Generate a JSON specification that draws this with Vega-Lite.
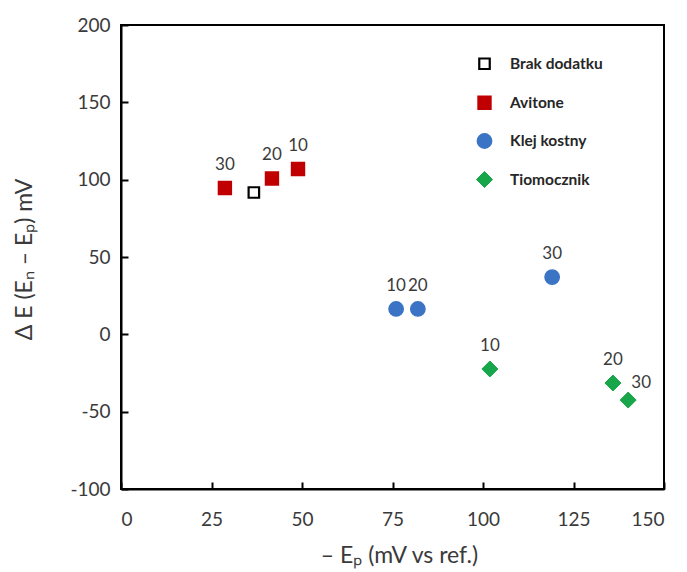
{
  "$schema": "https://vega.github.io/schema/vega-lite/v6.json",
  "width": 543,
  "height": 464,
  "autosize": {"type": "none"},
  "padding": {"left": 121, "top": 25, "right": 23, "bottom": 83},
  "background": "white",
  "config": {
    "font": "Lato",
    "view": {"stroke": "black", "strokeWidth": 2},
    "axis": {"grid": false, "domainColor": "black", "domainWidth": 2, "ticks": true, "tickColor": "black", "tickWidth": 2, "labelFont": "Lato", "labelFontSize": 19, "labelColor": "#3a3a3a", "titleFont": "Lato", "titleFontSize": 23, "titleFontWeight": "normal", "titleColor": "#3a3a3a"},
    "legend": {"title": null, "orient": "none", "legendX": 355, "legendY": 31, "padding": 0, "rowPadding": 18, "labelOffset": 17, "labelFont": "Lato", "labelFontSize": 15.5, "labelFontWeight": "bold", "labelColor": "#262626"}
  },
  "data": {
    "values": [
      {"series": "Brak dodatku", "x": 36.7, "y": 91.7, "dose": ""},
      {"series": "Avitone", "x": 28.7, "y": 94.6, "dose": "30"},
      {"series": "Avitone", "x": 41.7, "y": 100.8, "dose": "20"},
      {"series": "Avitone", "x": 48.9, "y": 106.9, "dose": "10"},
      {"series": "Klej kostny", "x": 76.0, "y": 16.4, "dose": "10"},
      {"series": "Klej kostny", "x": 82.0, "y": 16.4, "dose": "20"},
      {"series": "Klej kostny", "x": 119.1, "y": 37.0, "dose": "30"},
      {"series": "Tiomocznik", "x": 101.9, "y": -22.4, "dose": "10"},
      {"series": "Tiomocznik", "x": 135.9, "y": -31.5, "dose": "20"},
      {"series": "Tiomocznik", "x": 140.1, "y": -42.5, "dose": "30"}
    ]
  },
  "encoding": {
    "x": {"field": "x", "type": "quantitative", "scale": {"domain": [0, 150], "nice": false, "zero": false},
      "axis": {"values": [0, 25, 50, 75, 100, 125, 150], "tickSize": -7, "labelPadding": 28, "title": "– Eₚ (mV vs ref.)", "titleX": 278, "titleY": 66, "titleBaseline": "middle", "labelExpr": "replace(datum.label, '−', '-')"}},
    "y": {"field": "y", "type": "quantitative", "scale": {"domain": [-100, 200], "nice": false, "zero": false},
      "axis": {"values": [-100, -50, 0, 50, 100, 150, 200], "tickSize": -7, "labelPadding": 18, "title": "Δ E (Eₙ – Eₚ) mV", "titleX": -97, "titleY": 234, "titleBaseline": "middle", "titleAngle": -90, "titleAlign": "center", "labelExpr": "replace(datum.label, '−', '-')"}}
  },
  "layer": [
    {
      "mark": {"type": "point", "filled": false, "opacity": 1},
      "encoding": {
        "shape": {"field": "series", "type": "nominal",
          "scale": {"domain": ["Brak dodatku", "Avitone", "Klej kostny", "Tiomocznik"], "range": ["square", "square", "circle", "diamond"]}},
        "fill": {"field": "series", "type": "nominal",
          "scale": {"domain": ["Brak dodatku", "Avitone", "Klej kostny", "Tiomocznik"], "range": ["white", "#C00000", "#3B74C4", "#18A64A"]}},
        "stroke": {"field": "series", "type": "nominal",
          "scale": {"domain": ["Brak dodatku", "Avitone", "Klej kostny", "Tiomocznik"], "range": ["black", "#C00000", "#3B74C4", "#18A64A"]}},
        "size": {"field": "series", "type": "nominal",
          "scale": {"domain": ["Brak dodatku", "Avitone", "Klej kostny", "Tiomocznik"], "range": [110, 256, 256, 210]}},
        "strokeWidth": {"field": "series", "type": "nominal",
          "scale": {"domain": ["Brak dodatku", "Avitone", "Klej kostny", "Tiomocznik"], "range": [2.2, 1, 1, 1]}}
      }
    },
    {
      "transform": [{"filter": "datum.dose != '' && !(datum.series == 'Tiomocznik' && datum.dose == '30')"}],
      "mark": {"type": "text", "dy": -23, "baseline": "middle", "align": "center", "fontSize": 17, "font": "Lato", "color": "#3a3a3a"},
      "encoding": {"text": {"field": "dose"}}
    },
    {
      "transform": [{"filter": "datum.series == 'Tiomocznik' && datum.dose == '30'"}],
      "mark": {"type": "text", "dx": 13, "dy": -17, "baseline": "middle", "align": "center", "fontSize": 17, "font": "Lato", "color": "#3a3a3a"},
      "encoding": {"text": {"field": "dose"}}
    }
  ]
}
